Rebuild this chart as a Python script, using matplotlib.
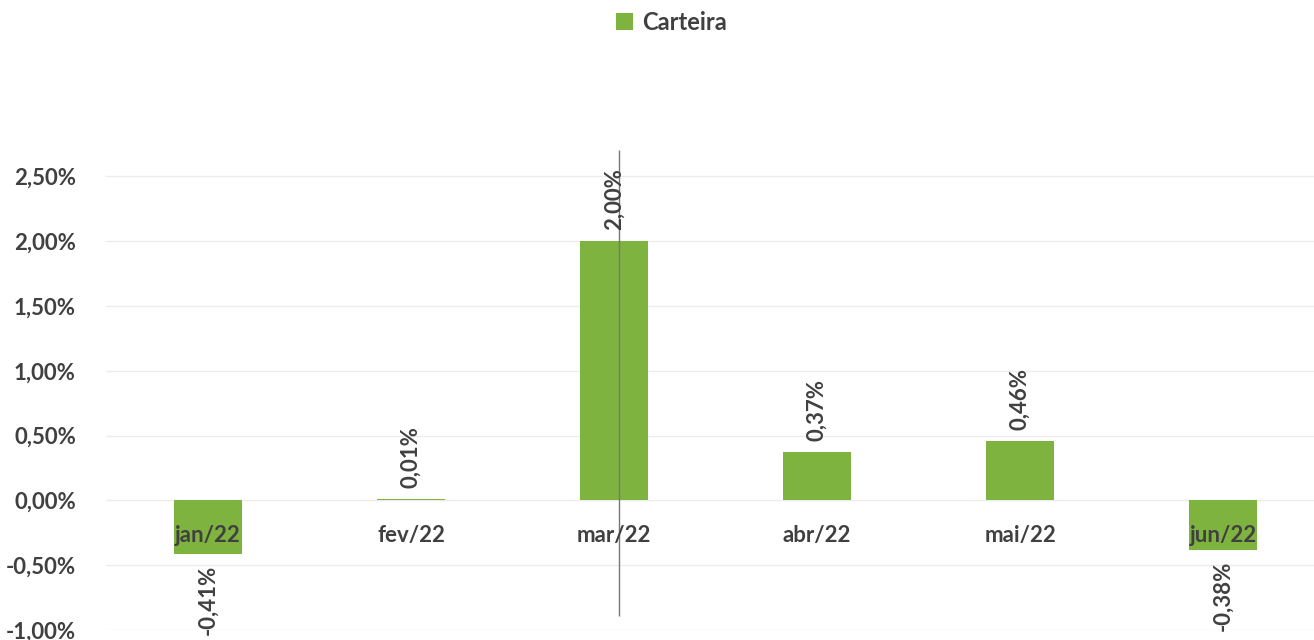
import numpy as np
import matplotlib
matplotlib.use('Agg')
from matplotlib import pyplot as plt

plt.rcParams['font.family'] = ['Lato', 'DejaVu Sans']

meses = ['jan/22', 'fev/22', 'mar/22', 'abr/22', 'mai/22', 'jun/22']
carteira = [-0.41, 0.01, 2.00, 0.37, 0.46, -0.38]
yticks = [-1.0, -0.5, 0.0, 0.5, 1.0, 1.5, 2.0, 2.5]

verde = '#7db33e'
cinza = '#404040'

def pct(v):
	return ('%.2f%%' % v).replace('.', ',')

fig = plt.figure(figsize=(13.14, 6.4), dpi=100)
ax = fig.add_axes([0.081, 0.0156, 0.919, 0.7495])

x = np.arange(len(meses))
ax.bar(x, carteira, width=0.335, color=verde, zorder=2, label='Carteira')

for i, v in enumerate(carteira):
	if v >= 0:
		ax.annotate(pct(v), (i, v), xytext=(0, 8), textcoords='offset points',
			rotation=90, ha='center', va='bottom', fontsize=16,
			fontweight='bold', color=cinza, zorder=4)
	else:
		ax.annotate(pct(v), (i, v), xytext=(0, -8), textcoords='offset points',
			rotation=90, ha='center', va='top', fontsize=16,
			fontweight='bold', color=cinza, zorder=4)
	# rotulo da categoria junto ao eixo zero
	ax.text(i, -0.27, meses[i], ha='center', va='center', fontsize=16,
		fontweight='bold', color=cinza, zorder=4)

# risco vertical que aparece na imagem digitalizada
ax.vlines(2.025, -0.89, 2.7, color='#777777', lw=1.0, zorder=3, clip_on=False)

ax.set_xlim(-0.5, 5.448)
ax.set_ylim(-1.0, 2.7)
ax.set_yticks(yticks)
ax.set_yticklabels([pct(t) for t in yticks], fontsize=16, fontweight='bold', color=cinza)
ax.set_xticks([])
ax.tick_params(axis='y', length=0, pad=22)
ax.grid(axis='y', color='#ececec', lw=1.0, zorder=0)
for s in ax.spines.values():
	s.set_visible(False)

leg = fig.legend(loc='upper center', bbox_to_anchor=(0.511, 1.016), frameon=False,
	handlelength=0.7, handleheight=0.7, handletextpad=0.4,
	prop={'size': 17, 'weight': 'bold'})
for t in leg.get_texts():
	t.set_color(cinza)

fig.savefig('out.png', dpi=100)
